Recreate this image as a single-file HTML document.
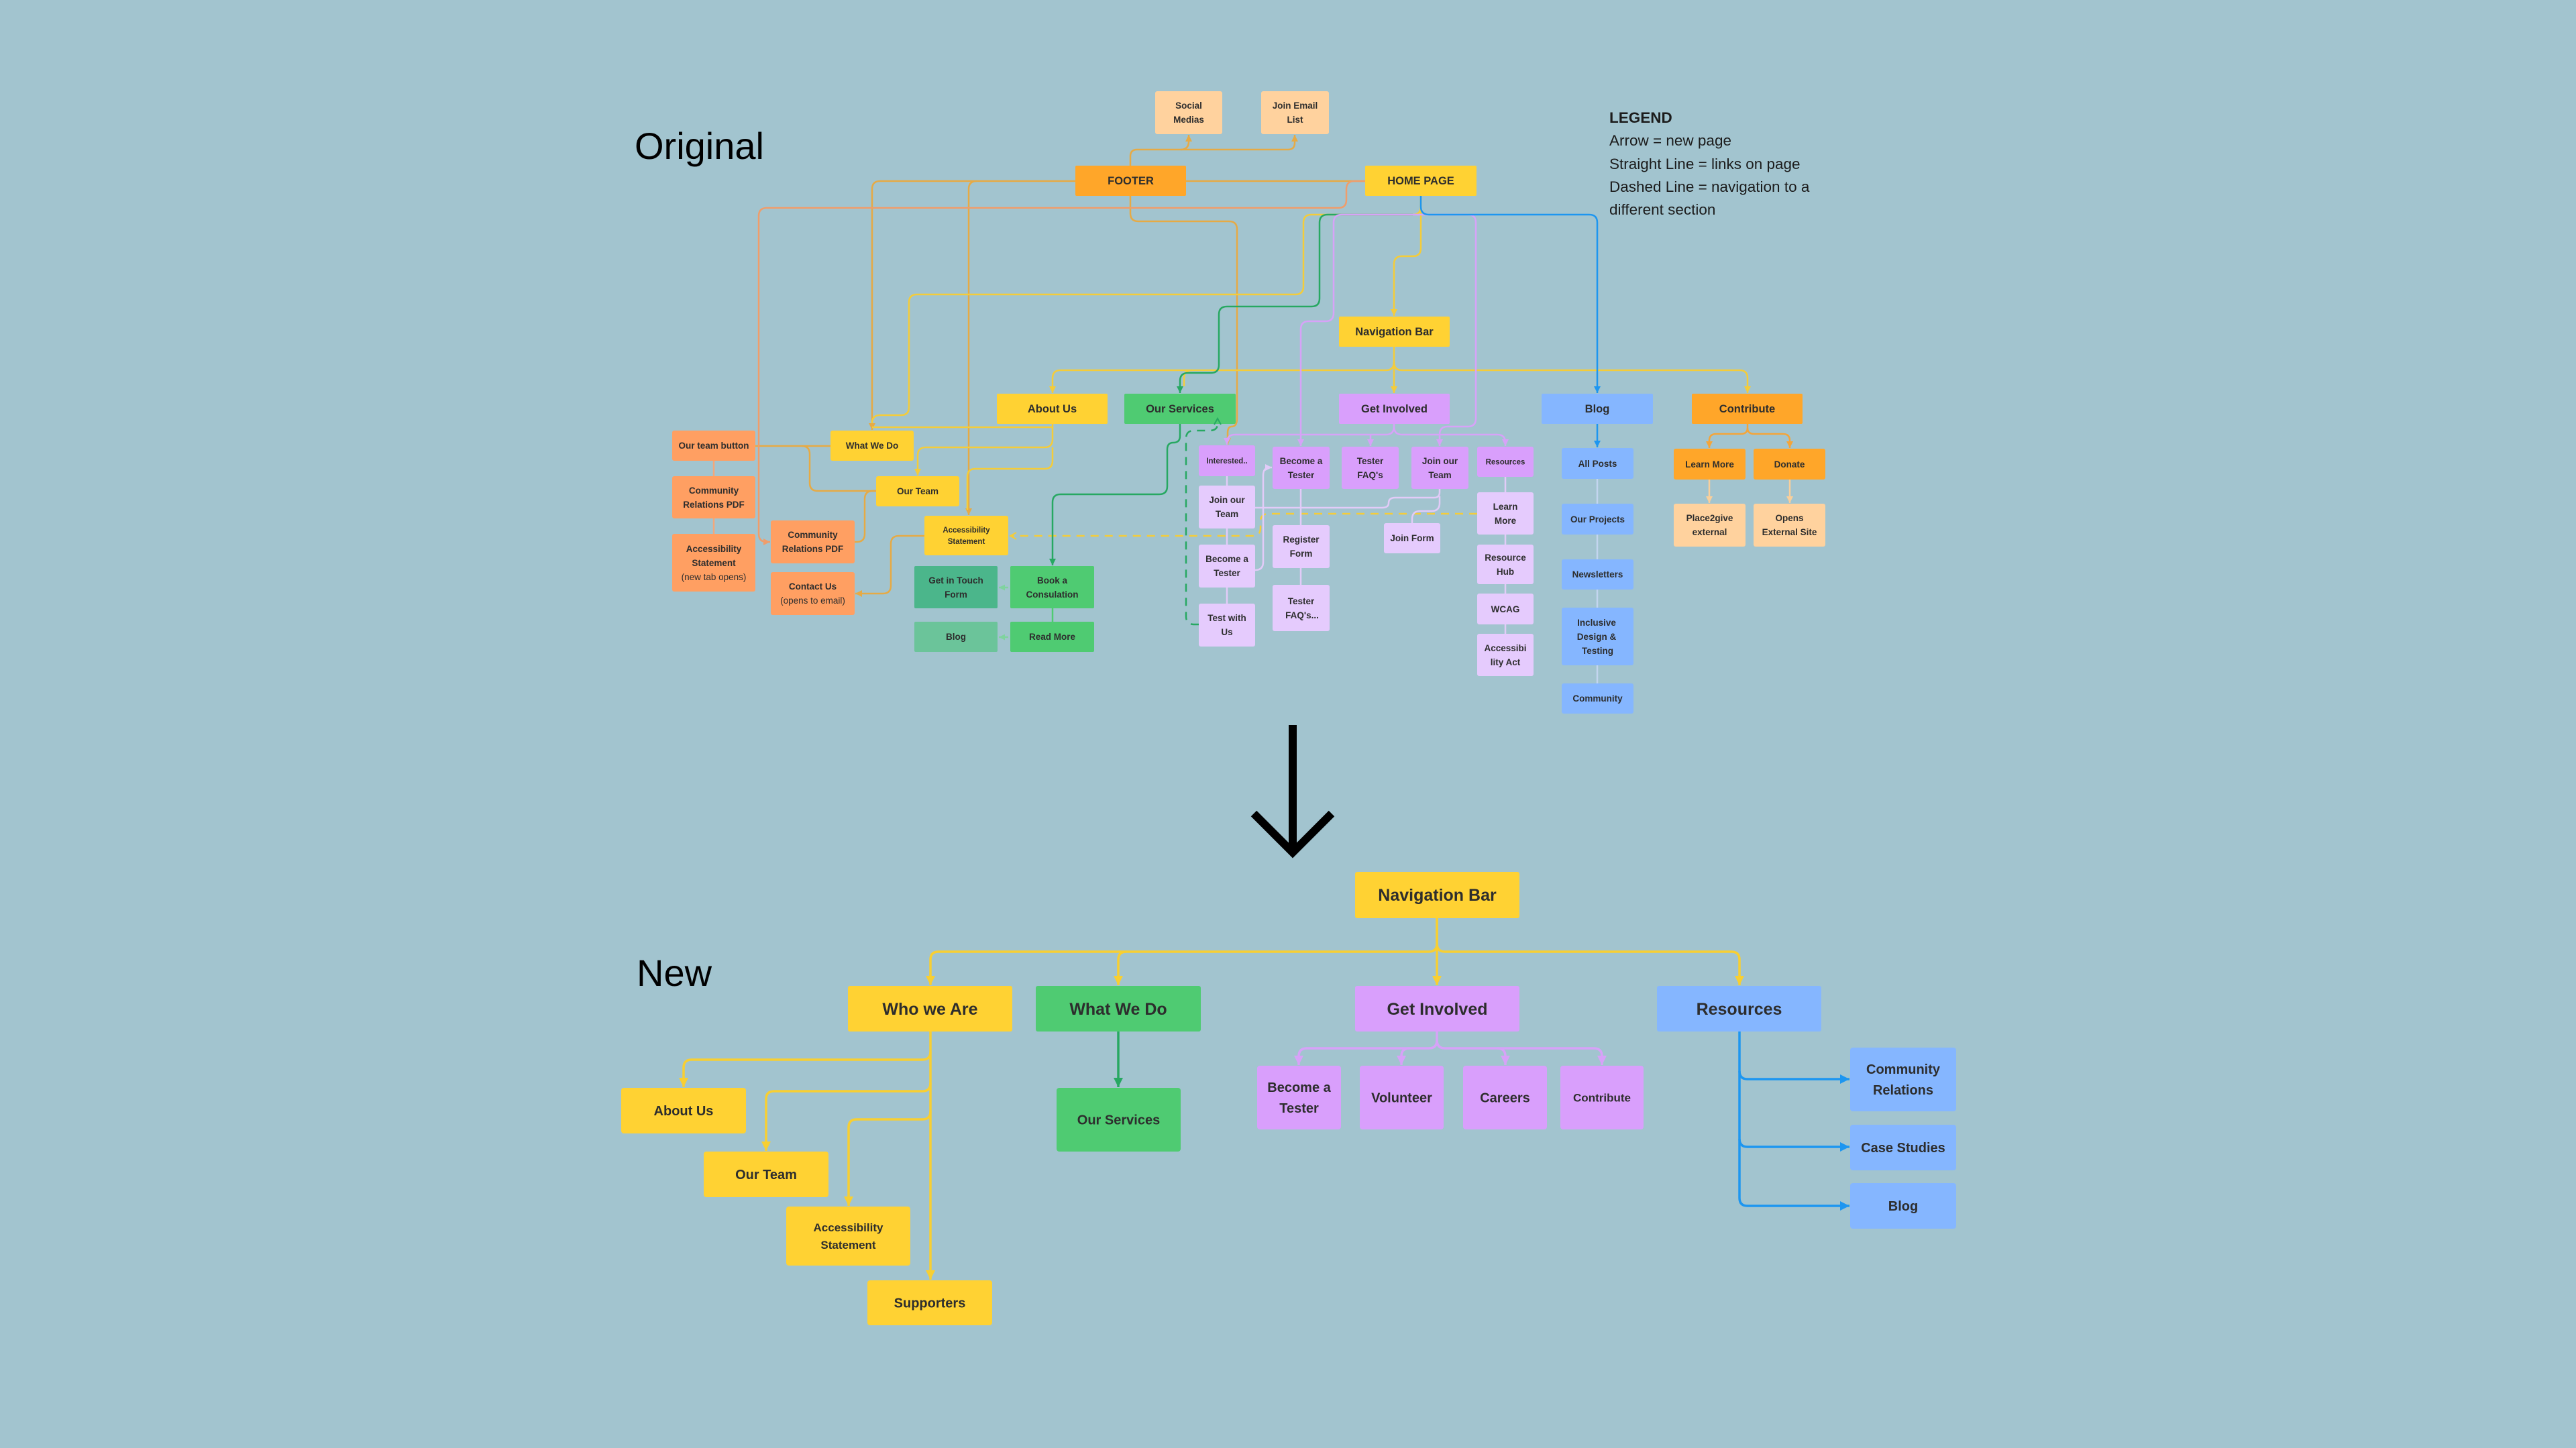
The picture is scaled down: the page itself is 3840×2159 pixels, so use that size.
<!DOCTYPE html>
<html>
<head>
<meta charset="utf-8">
<style>
html,body{margin:0;padding:0;background:#a2c4cf;}
body{width:3840px;height:2159px;overflow:hidden;}
svg{display:block;}
.n{font-family:"Liberation Sans",Arial,sans-serif;font-weight:700;fill:#2d2d2d;text-anchor:middle;}
.f16{font-size:16.5px;}
.f13{font-size:13.5px;}
.f11{font-size:11.5px;}
.f25{font-size:25px;}
.f20{font-size:20px;}
.f17{font-size:17px;}
.rg{font-weight:400;}
.c{fill:none;stroke-width:2.5;}
.c2{fill:none;stroke-width:3.5;}
.big{font-family:"Liberation Sans",Arial,sans-serif;font-size:56px;fill:#000;}
.lg{font-family:"Liberation Sans",Arial,sans-serif;font-size:22.5px;fill:#1c1c1c;}
</style>
</head>
<body>
<svg width="3840" height="2159" viewBox="0 0 3840 2159" xmlns="http://www.w3.org/2000/svg">
<defs>
  <marker id="aT" viewBox="0 0 10 10" refX="10" refY="5" markerWidth="10" markerHeight="10" markerUnits="userSpaceOnUse" orient="auto"><path d="M0,0 L10,5 L0,10 z" fill="#e6aa45"/></marker>
  <marker id="aS" viewBox="0 0 10 10" refX="10" refY="5" markerWidth="10" markerHeight="10" markerUnits="userSpaceOnUse" orient="auto"><path d="M0,0 L10,5 L0,10 z" fill="#ef9d6b"/></marker>
  <marker id="aY" viewBox="0 0 10 10" refX="10" refY="5" markerWidth="10" markerHeight="10" markerUnits="userSpaceOnUse" orient="auto"><path d="M0,0 L10,5 L0,10 z" fill="#f4cc3a"/></marker>
  <marker id="aG" viewBox="0 0 10 10" refX="10" refY="5" markerWidth="10" markerHeight="10" markerUnits="userSpaceOnUse" orient="auto"><path d="M0,0 L10,5 L0,10 z" fill="#27a862"/></marker>
  <marker id="aP" viewBox="0 0 10 10" refX="10" refY="5" markerWidth="10" markerHeight="10" markerUnits="userSpaceOnUse" orient="auto"><path d="M0,0 L10,5 L0,10 z" fill="#d7a2f8"/></marker>
  <marker id="aLP" viewBox="0 0 10 10" refX="10" refY="5" markerWidth="10" markerHeight="10" markerUnits="userSpaceOnUse" orient="auto"><path d="M0,0 L10,5 L0,10 z" fill="#e2cbf8"/></marker>
  <marker id="aB" viewBox="0 0 10 10" refX="10" refY="5" markerWidth="10" markerHeight="10" markerUnits="userSpaceOnUse" orient="auto"><path d="M0,0 L10,5 L0,10 z" fill="#1d96f0"/></marker>
  <marker id="aO" viewBox="0 0 10 10" refX="10" refY="5" markerWidth="10" markerHeight="10" markerUnits="userSpaceOnUse" orient="auto"><path d="M0,0 L10,5 L0,10 z" fill="#f4a53a"/></marker>
  <marker id="aPe" viewBox="0 0 10 10" refX="10" refY="5" markerWidth="10" markerHeight="10" markerUnits="userSpaceOnUse" orient="auto"><path d="M0,0 L10,5 L0,10 z" fill="#f9cf9b"/></marker>
  <marker id="aLG" viewBox="0 0 10 10" refX="10" refY="5" markerWidth="9" markerHeight="9" markerUnits="userSpaceOnUse" orient="auto"><path d="M0,0 L10,5 L0,10 z" fill="#7fd39f"/></marker>
  <marker id="oG" viewBox="0 0 12 12" refX="10" refY="6" markerWidth="12" markerHeight="12" markerUnits="userSpaceOnUse" orient="auto"><path d="M1,1 L10,6 L1,11" fill="none" stroke="#27a862" stroke-width="2"/></marker>
  <marker id="oY" viewBox="0 0 12 12" refX="10" refY="6" markerWidth="12" markerHeight="12" markerUnits="userSpaceOnUse" orient="auto"><path d="M1,1 L10,6 L1,11" fill="none" stroke="#f4cc3a" stroke-width="2"/></marker>
  <marker id="nY" viewBox="0 0 10 10" refX="10" refY="5" markerWidth="14" markerHeight="14" markerUnits="userSpaceOnUse" orient="auto"><path d="M0,0 L10,5 L0,10 z" fill="#f8cf32"/></marker>
  <marker id="nG" viewBox="0 0 10 10" refX="10" refY="5" markerWidth="14" markerHeight="14" markerUnits="userSpaceOnUse" orient="auto"><path d="M0,0 L10,5 L0,10 z" fill="#27a862"/></marker>
  <marker id="nP" viewBox="0 0 10 10" refX="10" refY="5" markerWidth="14" markerHeight="14" markerUnits="userSpaceOnUse" orient="auto"><path d="M0,0 L10,5 L0,10 z" fill="#d7a2f8"/></marker>
  <marker id="nB" viewBox="0 0 10 10" refX="10" refY="5" markerWidth="14" markerHeight="14" markerUnits="userSpaceOnUse" orient="auto"><path d="M0,0 L10,5 L0,10 z" fill="#1d96f0"/></marker>
</defs>

<rect x="0" y="0" width="3840" height="2159" fill="#a2c4cf"/>

<!-- Titles -->
<text class="big" x="946" y="237">Original</text>
<text class="big" x="949" y="1470">New</text>

<!-- Legend -->
<text class="lg" x="2399" y="183" font-weight="700">LEGEND</text>
<text class="lg" x="2399" y="217">Arrow = new page</text>
<text class="lg" x="2399" y="252">Straight Line = links on page</text>
<text class="lg" x="2399" y="286">Dashed Line = navigation to a</text>
<text class="lg" x="2399" y="320">different section</text>

<!-- ================= ORIGINAL NODES ================= -->
<g>
<rect x="1722" y="136" width="100" height="64" rx="3" fill="#ffd29e"/>
<text class="n f13" x="1772" y="162">Social</text><text class="n f13" x="1772" y="183">Medias</text>
<rect x="1880" y="136" width="101" height="64" rx="3" fill="#ffd29e"/>
<text class="n f13" x="1930.5" y="162">Join Email</text><text class="n f13" x="1930.5" y="183">List</text>

<rect x="1603" y="247" width="165" height="45" rx="2" fill="#ffa629"/>
<text class="n f16" x="1685.5" y="275">FOOTER</text>
<rect x="2035" y="247" width="166" height="45" rx="2" fill="#ffd233"/>
<text class="n f16" x="2118" y="275">HOME PAGE</text>
<rect x="1996" y="472" width="165" height="45" rx="2" fill="#ffd233"/>
<text class="n f16" x="2078.5" y="500">Navigation Bar</text>

<rect x="1486" y="587" width="165" height="45" rx="2" fill="#ffd233"/>
<text class="n f16" x="1568.5" y="615">About Us</text>
<rect x="1676" y="587" width="166" height="45" rx="2" fill="#4fcb72"/>
<text class="n f16" x="1759" y="615">Our Services</text>
<rect x="1996" y="587" width="165" height="45" rx="2" fill="#d99ffc"/>
<text class="n f16" x="2078.5" y="615">Get Involved</text>
<rect x="2298" y="587" width="166" height="45" rx="2" fill="#85b6ff"/>
<text class="n f16" x="2381" y="615">Blog</text>
<rect x="2522" y="587" width="165" height="45" rx="2" fill="#ffa629"/>
<text class="n f16" x="2604.5" y="615">Contribute</text>

<!-- left -->
<rect x="1002" y="642" width="124" height="45" rx="3" fill="#ff9f62"/>
<text class="n f13" x="1064" y="669">Our team button</text>
<rect x="1002" y="710" width="124" height="63" rx="3" fill="#ff9f62"/>
<text class="n f13" x="1064" y="736">Community</text><text class="n f13" x="1064" y="757">Relations PDF</text>
<rect x="1002" y="796" width="124" height="86" rx="3" fill="#ff9f62"/>
<text class="n f13" x="1064" y="823">Accessibility</text><text class="n f13" x="1064" y="844">Statement</text><text class="n f13 rg" x="1064" y="865">(new tab opens)</text>

<rect x="1238" y="642" width="124" height="45" rx="3" fill="#ffd233"/>
<text class="n f13" x="1300" y="669">What We Do</text>
<rect x="1306" y="710" width="124" height="45" rx="3" fill="#ffd233"/>
<text class="n f13" x="1368" y="737">Our Team</text>
<rect x="1149" y="776" width="125" height="64" rx="3" fill="#ff9f62"/>
<text class="n f13" x="1211.5" y="802">Community</text><text class="n f13" x="1211.5" y="823">Relations PDF</text>
<rect x="1149" y="853" width="125" height="64" rx="3" fill="#ff9f62"/>
<text class="n f13" x="1211.5" y="879">Contact Us</text><text class="n f13 rg" x="1211.5" y="900">(opens to email)</text>
<rect x="1378" y="769" width="125" height="59" rx="3" fill="#ffd233"/>
<text class="n f11" x="1440.5" y="794">Accessibility</text><text class="n f11" x="1440.5" y="811">Statement</text>
<rect x="1363" y="844" width="124" height="63" rx="2" fill="#4bb68b"/>
<text class="n f13" x="1425" y="870">Get in Touch</text><text class="n f13" x="1425" y="891">Form</text>
<rect x="1506" y="844" width="125" height="63" rx="2" fill="#4fcb72"/>
<text class="n f13" x="1568.5" y="870">Book a</text><text class="n f13" x="1568.5" y="891">Consulation</text>
<rect x="1363" y="927" width="124" height="45" rx="2" fill="#6bc49a"/>
<text class="n f13" x="1425" y="954">Blog</text>
<rect x="1506" y="927" width="125" height="45" rx="2" fill="#4fcb72"/>
<text class="n f13" x="1568.5" y="954">Read More</text>

<!-- purple -->
<rect x="1787" y="664" width="84" height="46" rx="3" fill="#d99ffc"/>
<text class="n f11" x="1829" y="691">Interested..</text>
<rect x="1897" y="666" width="85" height="63" rx="3" fill="#d99ffc"/>
<text class="n f13" x="1939.5" y="692">Become a</text><text class="n f13" x="1939.5" y="713">Tester</text>
<rect x="2000" y="666" width="85" height="63" rx="3" fill="#d99ffc"/>
<text class="n f13" x="2042.5" y="692">Tester</text><text class="n f13" x="2042.5" y="713">FAQ's</text>
<rect x="2104" y="666" width="85" height="63" rx="3" fill="#d99ffc"/>
<text class="n f13" x="2146.5" y="692">Join our</text><text class="n f13" x="2146.5" y="713">Team</text>
<rect x="2202" y="666" width="84" height="45" rx="3" fill="#d99ffc"/>
<text class="n f11" x="2244" y="692.5">Resources</text>

<rect x="1787" y="724" width="84" height="64" rx="3" fill="#e5cbfd"/>
<text class="n f13" x="1829" y="750">Join our</text><text class="n f13" x="1829" y="771">Team</text>
<rect x="1787" y="812" width="84" height="64" rx="3" fill="#e5cbfd"/>
<text class="n f13" x="1829" y="838">Become a</text><text class="n f13" x="1829" y="859">Tester</text>
<rect x="1787" y="900" width="84" height="64" rx="3" fill="#e5cbfd"/>
<text class="n f13" x="1829" y="926">Test with</text><text class="n f13" x="1829" y="947">Us</text>
<rect x="1897" y="783" width="85" height="64" rx="3" fill="#e5cbfd"/>
<text class="n f13" x="1939.5" y="809">Register</text><text class="n f13" x="1939.5" y="830">Form</text>
<rect x="1897" y="872" width="85" height="69" rx="3" fill="#e5cbfd"/>
<text class="n f13" x="1939.5" y="901">Tester</text><text class="n f13" x="1941" y="922">FAQ's...</text>
<rect x="2063" y="780" width="84" height="45" rx="3" fill="#e5cbfd"/>
<text class="n f13" x="2105" y="807">Join Form</text>
<rect x="2202" y="734" width="84" height="63" rx="3" fill="#e5cbfd"/>
<text class="n f13" x="2244" y="760">Learn</text><text class="n f13" x="2244" y="781">More</text>
<rect x="2202" y="812" width="84" height="59" rx="3" fill="#e5cbfd"/>
<text class="n f13" x="2244" y="836">Resource</text><text class="n f13" x="2244" y="857">Hub</text>
<rect x="2202" y="885" width="84" height="46" rx="3" fill="#e5cbfd"/>
<text class="n f13" x="2244" y="913">WCAG</text>
<rect x="2202" y="945" width="84" height="63" rx="3" fill="#e5cbfd"/>
<text class="n f13" x="2244" y="971">Accessibi</text><text class="n f13" x="2244" y="992">lity Act</text>

<!-- blue -->
<rect x="2328" y="668" width="107" height="46" rx="3" fill="#85b6ff"/>
<text class="n f13" x="2381.5" y="696">All Posts</text>
<rect x="2328" y="751" width="107" height="46" rx="3" fill="#85b6ff"/>
<text class="n f13" x="2381.5" y="779">Our Projects</text>
<rect x="2328" y="834" width="107" height="45" rx="3" fill="#85b6ff"/>
<text class="n f13" x="2381.5" y="861">Newsletters</text>
<rect x="2328" y="906" width="107" height="86" rx="3" fill="#85b6ff"/>
<text class="n f13" x="2380" y="933">Inclusive</text><text class="n f13" x="2380" y="954">Design &amp;</text><text class="n f13" x="2381.5" y="975">Testing</text>
<rect x="2328" y="1019" width="107" height="45" rx="3" fill="#85b6ff"/>
<text class="n f13" x="2381.5" y="1046">Community</text>

<!-- orange -->
<rect x="2495" y="669" width="107" height="46" rx="3" fill="#ffa629"/>
<text class="n f13" x="2548.5" y="697">Learn More</text>
<rect x="2614" y="669" width="107" height="46" rx="3" fill="#ffa629"/>
<text class="n f13" x="2667.5" y="697">Donate</text>
<rect x="2495" y="751" width="107" height="64" rx="3" fill="#ffd29e"/>
<text class="n f13" x="2548.5" y="777">Place2give</text><text class="n f13" x="2548.5" y="798">external</text>
<rect x="2614" y="751" width="107" height="64" rx="3" fill="#ffd29e"/>
<text class="n f13" x="2667.5" y="777">Opens</text><text class="n f13" x="2667.5" y="798">External Site</text>
</g>

<!-- ================= ORIGINAL CONNECTORS ================= -->
<g>
<!-- tan -->
<path class="c" stroke="#e6aa45" d="M1685,247 V233 Q1685,223 1695,223 H1920 Q1930,223 1930,213 V201" marker-end="url(#aT)"/>
<path class="c" stroke="#e6aa45" d="M1760,223 Q1772,223 1772,211 V201" marker-end="url(#aT)"/>
<path class="c" stroke="#e6aa45" d="M1603,270 H1312 Q1300,270 1300,282 V641" marker-end="url(#aT)"/>
<path class="c" stroke="#e6aa45" d="M1456,270 Q1444,270 1444,282 V768" marker-end="url(#aT)"/>
<path class="c" stroke="#e6aa45" d="M1768,270 H2035"/>
<path class="c" stroke="#e6aa45" d="M1685,292 V318 Q1685,330 1697,330 H1832 Q1844,330 1844,342 V624 Q1844,636 1836,636 Q1830,636 1830,646 V663" marker-end="url(#aT)"/>
<path class="c" stroke="#e6aa45" d="M1126,665 H1238"/>
<path class="c" stroke="#e6aa45" d="M1195,665 Q1207,665 1207,677 V720 Q1207,732 1219,732 H1306"/>
<path class="c" stroke="#e6aa45" d="M1306,732 H1301 Q1289,732 1289,744 V796 Q1289,808 1277,808 H1274"/>
<path class="c" stroke="#e6aa45" d="M1378,799 H1340 Q1328,799 1328,811 V873 Q1328,885 1316,885 H1275" marker-end="url(#aT)"/>

<!-- salmon -->
<path class="c" stroke="#ef9d6b" d="M2035,270 H2019 Q2007,270 2007,282 V298 Q2007,310 1995,310 H1143 Q1131,310 1131,322 V796 Q1131,808 1143,808 H1148" marker-end="url(#aS)"/>
<path class="c" stroke="#f3a77a" d="M1064,687 V710 M1064,773 V796"/>

<!-- yellow -->
<path class="c" stroke="#f4cc3a" d="M2118,292 V308 Q2118,320 2106,320 H1955 Q1943,320 1943,332 V427 Q1943,439 1931,439 H1367 Q1355,439 1355,451 V607 Q1355,619 1343,619 H1312 Q1300,619 1300,631"/>
<path class="c" stroke="#f4cc3a" d="M2118,292 V370 Q2118,382 2106,382 H2090 Q2078,382 2078,394 V471" marker-end="url(#aY)"/>
<path class="c" stroke="#f4cc3a" d="M2078,517 V586" marker-end="url(#aY)"/>
<path class="c" stroke="#f4cc3a" d="M2078,540 Q2078,552 2066,552 H1581 Q1569,552 1569,564 V586" marker-end="url(#aY)"/>
<path class="c" stroke="#f4cc3a" d="M2078,540 Q2078,552 2090,552 H2593 Q2605,552 2605,564 V586" marker-end="url(#aY)"/>
<path class="c" stroke="#f4cc3a" d="M1777,552 Q1765,552 1765,564 V576"/>
<path class="c" stroke="#f4cc3a" d="M1569,632 V637 H1300"/>
<path class="c" stroke="#f4cc3a" d="M1569,637 V655 Q1569,667 1557,667 H1380 Q1368,667 1368,679 V709" marker-end="url(#aY)"/>
<path class="c" stroke="#f4cc3a" d="M1569,667 V687 Q1569,699 1557,699 H1454 Q1442,699 1442,711 V760"/>
<!-- yellow dashed -->
<path class="c" stroke="#f4cc3a" stroke-dasharray="12 9" d="M2202,766 H1891 Q1879,766 1879,778 V787 Q1879,799 1867,799 H1506" marker-end="url(#oY)"/>

<!-- green -->
<path class="c" stroke="#27a862" d="M2106,320 H1979 Q1967,320 1967,332 V445 Q1967,457 1955,457 H1829 Q1817,457 1817,469 V544 Q1817,556 1805,556 H1771 Q1759,556 1759,568 V586" marker-end="url(#aG)"/>
<path class="c" stroke="#27a862" d="M1759,632 V650 Q1759,660 1749,660 Q1740,660 1740,670 V725 Q1740,737 1728,737 H1581 Q1569,737 1569,749 V843" marker-end="url(#aG)"/>
<path class="c" stroke="#27a862" stroke-dasharray="12 9" d="M1787,931 H1780 Q1768,931 1768,919 V654 Q1768,642 1780,642 H1803 Q1815,642 1815,632 V624" marker-end="url(#oG)"/>
<path class="c" stroke="#4fcb72" d="M1569,907 V927"/>
<path class="c" stroke="#7fd39f" d="M1503,876 H1489" marker-end="url(#aLG)"/>
<path class="c" stroke="#7fd39f" d="M1503,950 H1489" marker-end="url(#aLG)"/>

<!-- purple -->
<path class="c" stroke="#d7a2f8" d="M2118,320 H2000 Q1988,320 1988,332 V467 Q1988,479 1976,479 H1951 Q1939,479 1939,491 V665" marker-end="url(#aP)"/>
<path class="c" stroke="#d7a2f8" d="M2118,320 H2188 Q2200,320 2200,332 V624 Q2200,636 2188,636 H2158 Q2146,636 2146,648 V665" marker-end="url(#aP)"/>
<path class="c" stroke="#d7a2f8" d="M2078,632 V636 Q2078,648 2066,648 H1841 Q1829,648 1829,660 V663" marker-end="url(#aP)"/>
<path class="c" stroke="#d7a2f8" d="M2078,636 Q2078,648 2090,648 H2232 Q2244,648 2244,660 V665" marker-end="url(#aP)"/>
<path class="c" stroke="#d7a2f8" d="M2043,648 V665" marker-end="url(#aP)"/>

<!-- light purple -->
<path class="c" stroke="#e2cbf8" d="M1829,710 V724 M1829,788 V812 M1829,876 V900 M1939,729 V783 M1939,847 V872 M2244,711 V734 M2244,797 V812 M2244,871 V885 M2244,931 V945"/>
<path class="c" stroke="#e2cbf8" d="M2146,729 V734 Q2146,742 2138,742 H2080 Q2070,742 2070,750 Q2070,757 2060,757 H1871"/>
<path class="c" stroke="#e2cbf8" d="M2146,740 V750 Q2146,762 2134,762 H2117 Q2105,762 2105,774 V780"/>
<path class="c" stroke="#e2cbf8" d="M1871,850 Q1883,850 1883,838 V709 Q1883,697 1893,697 H1896" marker-end="url(#aLP)"/>

<!-- blue -->
<path class="c" stroke="#1d96f0" d="M2118,292 V308 Q2118,320 2130,320 H2369 Q2381,320 2381,332 V586" marker-end="url(#aB)"/>
<path class="c" stroke="#1d96f0" d="M2381,632 V667" marker-end="url(#aB)"/>
<path class="c" stroke="#c3d5ef" d="M2381,714 V751 M2381,797 V834 M2381,879 V906 M2381,992 V1019"/>

<!-- orange -->
<path class="c" stroke="#f4a53a" d="M2605,632 V638 Q2605,647 2595,647 H2558 Q2548,647 2548,657 V668" marker-end="url(#aO)"/>
<path class="c" stroke="#f4a53a" d="M2605,638 Q2605,647 2615,647 H2658 Q2668,647 2668,657 V668" marker-end="url(#aO)"/>
<path class="c" stroke="#f9cf9b" d="M2548,715 V750" marker-end="url(#aPe)"/>
<path class="c" stroke="#f9cf9b" d="M2668,715 V750" marker-end="url(#aPe)"/>
</g>

<!-- Big arrow -->
<path d="M1927,1081 V1268" stroke="#000" stroke-width="12" fill="none"/>
<path d="M1869,1213 L1927,1271 L1985,1213" stroke="#000" stroke-width="12" fill="none" stroke-linejoin="miter"/>

<!-- ================= NEW NODES ================= -->
<g>
<rect x="2020" y="1300" width="245" height="69" rx="3" fill="#ffd233"/>
<text class="n f25" x="2142.5" y="1343">Navigation Bar</text>
<rect x="1264" y="1470" width="245" height="68" rx="3" fill="#ffd233"/>
<text class="n f25" x="1386.5" y="1513">Who we Are</text>
<rect x="1544" y="1470" width="246" height="68" rx="3" fill="#4fcb72"/>
<text class="n f25" x="1667" y="1513">What We Do</text>
<rect x="2020" y="1470" width="245" height="68" rx="3" fill="#d99ffc"/>
<text class="n f25" x="2142.5" y="1513">Get Involved</text>
<rect x="2470" y="1470" width="245" height="68" rx="3" fill="#85b6ff"/>
<text class="n f25" x="2592.5" y="1513">Resources</text>

<rect x="926" y="1622" width="186" height="68" rx="4" fill="#ffd233"/>
<text class="n f20" x="1019" y="1663">About Us</text>
<rect x="1049" y="1717" width="186" height="68" rx="4" fill="#ffd233"/>
<text class="n f20" x="1142" y="1758">Our Team</text>
<rect x="1172" y="1799" width="185" height="88" rx="4" fill="#ffd233"/>
<text class="n f17" x="1264.5" y="1836">Accessibility</text><text class="n f17" x="1264.5" y="1862">Statement</text>
<rect x="1293" y="1909" width="186" height="67" rx="4" fill="#ffd233"/>
<text class="n f20" x="1386" y="1949.5">Supporters</text>
<rect x="1575" y="1622" width="185" height="95" rx="4" fill="#4fcb72"/>
<text class="n f20" x="1667.5" y="1676.5">Our Services</text>

<rect x="1874" y="1589" width="125" height="95" rx="4" fill="#d99ffc"/>
<text class="n f20" x="1936.5" y="1628">Become a</text><text class="n f20" x="1936.5" y="1659">Tester</text>
<rect x="2027" y="1589" width="125" height="95" rx="4" fill="#d99ffc"/>
<text class="n f20" x="2089.5" y="1643.5">Volunteer</text>
<rect x="2181" y="1589" width="125" height="95" rx="4" fill="#d99ffc"/>
<text class="n f20" x="2243.5" y="1643.5">Careers</text>
<rect x="2326" y="1589" width="124" height="95" rx="4" fill="#d99ffc"/>
<text class="n f17" x="2388" y="1642.5">Contribute</text>

<rect x="2758" y="1562" width="158" height="95" rx="4" fill="#85b6ff"/>
<text class="n f20" x="2837" y="1601">Community</text><text class="n f20" x="2837" y="1632">Relations</text>
<rect x="2758" y="1677" width="158" height="68" rx="4" fill="#85b6ff"/>
<text class="n f20" x="2837" y="1718">Case Studies</text>
<rect x="2758" y="1764" width="158" height="68" rx="4" fill="#85b6ff"/>
<text class="n f20" x="2837" y="1805">Blog</text>
</g>

<!-- ================= NEW CONNECTORS ================= -->
<g>
<path class="c2" stroke="#f8cf32" d="M2142,1369 V1407 Q2142,1419 2130,1419 H1399 Q1387,1419 1387,1431 V1469" marker-end="url(#nY)"/>
<path class="c2" stroke="#f8cf32" d="M2142,1407 Q2142,1419 2154,1419 H2581 Q2593,1419 2593,1431 V1469" marker-end="url(#nY)"/>
<path class="c2" stroke="#f8cf32" d="M2142,1369 V1469" marker-end="url(#nY)"/>
<path class="c2" stroke="#f8cf32" d="M1679,1419 Q1667,1419 1667,1431 V1469" marker-end="url(#nY)"/>
<path class="c2" stroke="#f8cf32" d="M1387,1538 V1908" marker-end="url(#nY)"/>
<path class="c2" stroke="#f8cf32" d="M1387,1568 Q1387,1580 1375,1580 H1031 Q1019,1580 1019,1592 V1621" marker-end="url(#nY)"/>
<path class="c2" stroke="#f8cf32" d="M1387,1615 Q1387,1627 1375,1627 H1154 Q1142,1627 1142,1639 V1716" marker-end="url(#nY)"/>
<path class="c2" stroke="#f8cf32" d="M1387,1657 Q1387,1669 1375,1669 H1277 Q1265,1669 1265,1681 V1798" marker-end="url(#nY)"/>
<path class="c2" stroke="#27a862" d="M1667,1538 V1621" marker-end="url(#nG)"/>
<path class="c2" stroke="#d7a2f8" d="M2142,1538 V1551 Q2142,1563 2130,1563 H1948 Q1936,1563 1936,1575 V1588" marker-end="url(#nP)"/>
<path class="c2" stroke="#d7a2f8" d="M2142,1551 Q2142,1563 2154,1563 H2376 Q2388,1563 2388,1575 V1588" marker-end="url(#nP)"/>
<path class="c2" stroke="#d7a2f8" d="M2101,1563 Q2089,1563 2089,1575 V1588" marker-end="url(#nP)"/>
<path class="c2" stroke="#d7a2f8" d="M2232,1563 Q2244,1563 2244,1575 V1588" marker-end="url(#nP)"/>
<path class="c2" stroke="#1d96f0" d="M2593,1538 V1786 Q2593,1798 2605,1798 H2757" marker-end="url(#nB)"/>
<path class="c2" stroke="#1d96f0" d="M2593,1597 Q2593,1609 2605,1609 H2757" marker-end="url(#nB)"/>
<path class="c2" stroke="#1d96f0" d="M2593,1698 Q2593,1710 2605,1710 H2757" marker-end="url(#nB)"/>
</g>
</svg>
</body>
</html>
